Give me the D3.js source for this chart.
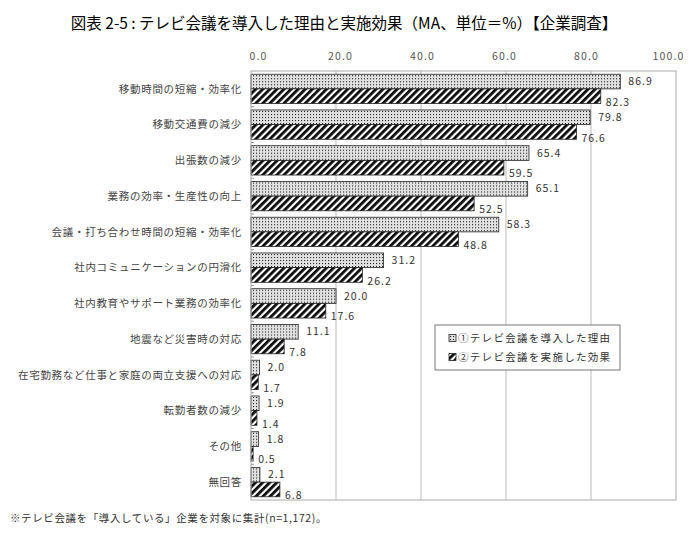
<!DOCTYPE html>
<html>
<head>
<meta charset="utf-8">
<script src="https://cdn.jsdelivr.net/npm/d3@7"></script>
<style>
  body { margin: 0; background: #fff; }
  svg { display: block; }
  text { font-family: "Noto Sans CJK JP", "Noto Sans", sans-serif; }
</style>
</head>
<body>
<svg id="chart" width="700" height="534"></svg>
<script>
const categories = [
    "移動時間の短縮・効率化",
    "移動交通費の減少",
    "出張数の減少",
    "業務の効率・生産性の向上",
    "会議・打ち合わせ時間の短縮・効率化",
    "社内コミュニケーションの円滑化",
    "社内教育やサポート業務の効率化",
    "地震など災害時の対応",
    "在宅勤務など仕事と家庭の両立支援への対応",
    "転勤者数の減少",
    "その他",
    "無回答"
];
const reasonValues = [86.9, 79.8, 65.4, 65.1, 58.3, 31.2, 20.0, 11.1, 2.0, 1.9, 1.8, 2.1];
const effectValues = [82.3, 76.6, 59.5, 52.5, 48.8, 26.2, 17.6, 7.8, 1.7, 1.4, 0.5, 6.8];
const seriesNames = ["①テレビ会議を導入した理由", "②テレビ会議を実施した効果"];
const xTicks = [0, 20, 40, 60, 80, 100];

const svg = d3.select("#chart");
const plotLeft = 251, plotRight = 676, plotTop = 71, plotBottom = 500;

// patterns
const defs = svg.append("defs");
const dots = defs.append("pattern")
    .attr("id", "dots")
    .attr("patternUnits", "userSpaceOnUse")
    .attr("width", 3).attr("height", 3);
dots.append("rect").attr("width", 3).attr("height", 3).attr("fill", "#e2e2e2");
dots.append("rect").attr("x", 1).attr("y", 1).attr("width", 1.1).attr("height", 1.1).attr("fill", "#222");

const hatch = defs.append("pattern")
    .attr("id", "hatch")
    .attr("patternUnits", "userSpaceOnUse")
    .attr("width", 5).attr("height", 5)
    .attr("patternTransform", "rotate(45)");
hatch.append("rect").attr("width", 5).attr("height", 5).attr("fill", "#fff");
hatch.append("rect").attr("width", 2.8).attr("height", 5).attr("fill", "#0a0a0a");

const x = d3.scaleLinear().domain([0, 100]).range([plotLeft, plotRight]);
// tick labels sit on a slightly narrower span than the plot
const xLabel = d3.scaleLinear().domain([0, 100]).range([258, 668]);

const y = d3.scaleBand().domain(categories).range([plotTop, plotBottom])
    .paddingInner(0.18).paddingOuter(0.09);
const ySub = d3.scaleBand().domain([0, 1]).range([0, y.bandwidth()]);

// title
svg.append("text")
    .attr("x", 344).attr("y", 29)
    .attr("text-anchor", "middle")
    .attr("font-size", 15.5)
    .attr("fill", "#000")
    .text("図表 2-5 : テレビ会議を導入した理由と実施効果（MA、単位＝%）【企業調査】");

// grid
svg.append("g")
    .selectAll("line")
    .data(xTicks.slice(1, -1))
    .join("line")
    .attr("x1", d => x(d)).attr("x2", d => x(d))
    .attr("y1", plotTop).attr("y2", plotBottom)
    .attr("stroke", "#bbb").attr("stroke-width", 1);

// top axis labels
const axis = svg.append("g")
    .attr("transform", `translate(0,${plotTop - 8})`)
    .call(d3.axisTop(xLabel).tickValues(xTicks).tickSize(0).tickFormat(d => d.toFixed(1)));
axis.select(".domain").remove();
axis.selectAll("text")
    .attr("font-size", 10.5)
    .attr("fill", "#555")
    .attr("letter-spacing", 1.2);

// bars
const groups = svg.append("g")
    .selectAll("g")
    .data(categories)
    .join("g")
    .attr("transform", d => `translate(0,${y(d)})`);

groups.append("rect")
    .attr("x", x(0))
    .attr("y", ySub(0))
    .attr("width", (d, i) => x(reasonValues[i]) - x(0))
    .attr("height", ySub.bandwidth())
    .attr("fill", "url(#dots)")
    .attr("stroke", "#222").attr("stroke-width", 0.8);

groups.append("rect")
    .attr("x", x(0))
    .attr("y", ySub(1))
    .attr("width", (d, i) => x(effectValues[i]) - x(0))
    .attr("height", ySub.bandwidth())
    .attr("fill", "url(#hatch)")
    .attr("stroke", "#222").attr("stroke-width", 0.8);

// value labels
groups.append("text")
    .attr("x", (d, i) => x(reasonValues[i]) + 8)
    .attr("y", ySub(0) + ySub.bandwidth() / 2)
    .attr("dy", "0.35em")
    .attr("font-size", 10.5).attr("fill", "#333")
    .attr("letter-spacing", 1)
    .text((d, i) => reasonValues[i].toFixed(1));

groups.append("text")
    .attr("x", (d, i) => x(effectValues[i]) + 5)
    .attr("y", ySub(1) + ySub.bandwidth() / 2 + 6)
    .attr("dy", "0.35em")
    .attr("font-size", 10.5).attr("fill", "#333")
    .attr("letter-spacing", 1)
    .text((d, i) => effectValues[i].toFixed(1));

// category labels
groups.append("text")
    .attr("x", plotLeft - 9)
    .attr("y", y.bandwidth() / 2)
    .attr("dy", "0.35em")
    .attr("text-anchor", "end")
    .attr("font-size", 10.5).attr("fill", "#444")
    .attr("letter-spacing", 0.7)
    .text(d => d);

// small ticks between groups
svg.append("g")
    .selectAll("line")
    .data(categories.slice(1))
    .join("line")
    .attr("x1", plotLeft).attr("x2", plotLeft + 3)
    .attr("y1", d => y(d) - y.step() * y.paddingInner() / 2)
    .attr("y2", d => y(d) - y.step() * y.paddingInner() / 2)
    .attr("stroke", "#999");

// plot frame
svg.append("rect")
    .attr("x", plotLeft).attr("y", plotTop)
    .attr("width", plotRight - plotLeft).attr("height", plotBottom - plotTop)
    .attr("fill", "none").attr("stroke", "#aaa").attr("stroke-width", 1);

// legend
const legend = svg.append("g").attr("transform", "translate(435,325)");
legend.append("rect")
    .attr("width", 185).attr("height", 45)
    .attr("fill", "#fff").attr("stroke", "#555").attr("stroke-width", 0.8);
const items = legend.selectAll("g.item")
    .data(seriesNames)
    .join("g")
    .attr("class", "item")
    .attr("transform", (d, i) => `translate(14,${13 + i * 19})`);
items.append("rect")
    .attr("x", 0).attr("y", -3.5)
    .attr("width", 7).attr("height", 7)
    .attr("fill", (d, i) => i === 0 ? "url(#dots)" : "url(#hatch)")
    .attr("stroke", "#222").attr("stroke-width", 0.8);
items.append("text")
    .attr("x", 9)
    .attr("dy", "0.35em")
    .attr("font-size", 10.5).attr("fill", "#333")
    .attr("letter-spacing", 1.3)
    .text(d => d);

// footnote
svg.append("text")
    .attr("x", 10).attr("y", 522)
    .attr("font-size", 10.5).attr("fill", "#333")
    .attr("letter-spacing", 0.6)
    .text("※テレビ会議を「導入している」企業を対象に集計(n=1,172)。");
</script>
</body>
</html>
